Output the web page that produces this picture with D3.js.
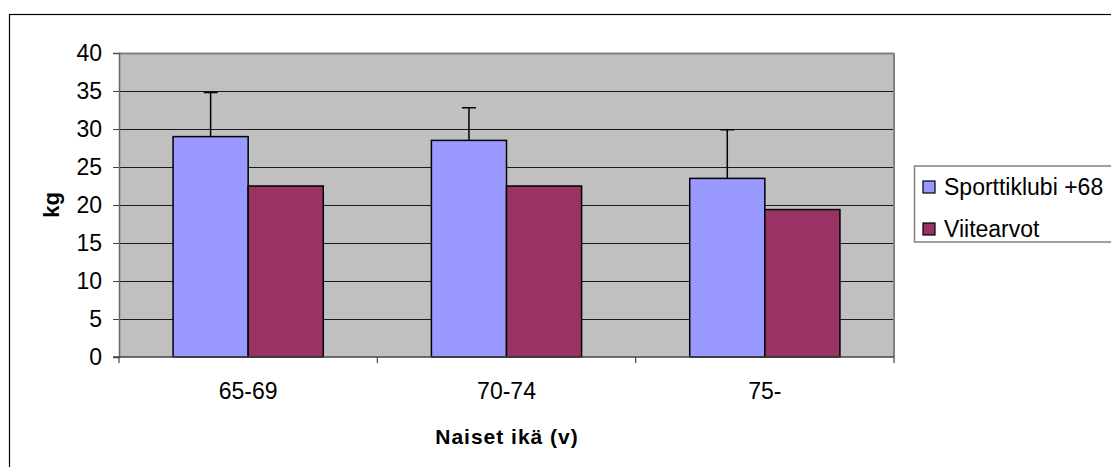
<!DOCTYPE html>
<html><head><meta charset="utf-8">
<script src="https://cdn.jsdelivr.net/npm/d3@7"></script>
<style>body{margin:0;background:#fff}svg{display:block}text{font-family:"Liberation Sans",Arial,sans-serif}</style>
</head><body><svg id="c" width="1111" height="467"></svg>
<script>
const categories = ["65-69", "70-74", "75-"];
const seriesNames = ["Sporttiklubi +68", "Viitearvot"];
const sporttiklubi = [29.0, 28.5, 23.5];
const sporttiklubiErr = [5.8, 4.3, 6.4];
const viitearvot = [22.5, 22.5, 19.4];
const yTicks = [0, 5, 10, 15, 20, 25, 30, 35, 40];
const colors = ["#9999FF", "#993366"];

const svg = d3.select("#c");
const m = {left: 119, right: 894, top: 53, bottom: 357};

svg.append("rect").attr("x", 9.5).attr("y", 14.5).attr("width", 1200).attr("height", 500)
  .attr("fill", "#fff").attr("stroke", "#000").attr("stroke-width", 1.2);

const x = d3.scaleBand().domain(categories).range([m.left, m.right]).paddingInner(0).paddingOuter(0);
const inner = d3.scaleBand().domain(seriesNames).range([0, x.bandwidth()]).paddingInner(0).paddingOuter(0.72);
const y = d3.scaleLinear().domain([0, 40]).range([m.bottom, m.top]);

svg.append("rect").attr("x", m.left).attr("y", m.top).attr("width", m.right - m.left).attr("height", m.bottom - m.top)
  .attr("fill", "#C0C0C0");

svg.append("g").selectAll("line").data(yTicks.filter(d => d > 0)).join("line")
  .attr("x1", m.left).attr("x2", m.right).attr("y1", d => Math.round(y(d)) + 0.5).attr("y2", d => Math.round(y(d)) + 0.5)
  .attr("stroke", d => d === 40 ? "#808080" : "#1a1a1a").attr("stroke-width", d => d === 40 ? 2 : 1.2);
svg.append("line").attr("x1", m.right).attr("x2", m.right).attr("y1", m.top).attr("y2", m.bottom)
  .attr("stroke", "#808080").attr("stroke-width", 2);

const rows = categories.map((c, i) => ({c, vals: [sporttiklubi[i], viitearvot[i]], err: sporttiklubiErr[i]}));
const g = svg.append("g").selectAll("g").data(rows).join("g").attr("transform", d => `translate(${x(d.c)},0)`);
const cx = inner(seriesNames[0]) + inner.bandwidth() / 2;
g.append("line").attr("x1", cx).attr("x2", cx)
  .attr("y1", d => y(d.vals[0])).attr("y2", d => y(d.vals[0] + d.err)).attr("stroke", "#000").attr("stroke-width", 1.5);
g.append("line").attr("x1", cx - 7).attr("x2", cx + 7)
  .attr("y1", d => y(d.vals[0] + d.err)).attr("y2", d => y(d.vals[0] + d.err)).attr("stroke", "#000").attr("stroke-width", 1.5);
g.selectAll("rect").data(d => d.vals.map((v, j) => ({v, j}))).join("rect")
  .attr("x", d => inner(seriesNames[d.j])).attr("width", inner.bandwidth())
  .attr("y", d => y(d.v)).attr("height", d => y(0) - y(d.v))
  .attr("fill", d => colors[d.j]).attr("stroke", "#000").attr("stroke-width", 1.5);

const yAxis = d3.axisLeft(y).tickValues(yTicks).tickSize(6).tickPadding(11);
const ya = svg.append("g").attr("transform", `translate(${m.left},0)`).call(yAxis);
ya.select(".domain").attr("stroke", "#666").attr("stroke-width", 1.5);
ya.selectAll(".tick line").attr("stroke", "#444");
ya.selectAll("text").attr("font-size", 23).attr("fill", "#000").attr("font-family", "Liberation Sans, Arial");

const xAxis = d3.axisBottom(x).tickSize(0).tickPadding(26);
const xa = svg.append("g").attr("transform", `translate(0,${m.bottom})`).call(xAxis);
xa.select(".domain").remove();
xa.selectAll("text").attr("font-size", 23).attr("fill", "#000").attr("font-family", "Liberation Sans, Arial");
svg.append("line").attr("x1", m.left - 6).attr("x2", m.right).attr("y1", m.bottom).attr("y2", m.bottom).attr("stroke", "#444").attr("stroke-width", 1.5);
svg.append("g").selectAll("line").data([...categories.map(c => x(c)), m.right]).join("line")
  .attr("x1", d => d).attr("x2", d => d).attr("y1", m.bottom).attr("y2", m.bottom + 6).attr("stroke", "#444").attr("stroke-width", 1.2);

svg.append("text").attr("transform", "translate(59,205) rotate(-90)").attr("text-anchor", "middle")
  .attr("font-size", 22).attr("font-weight", "bold").text("kg");
svg.append("text").attr("x", 507).attr("y", 444).attr("text-anchor", "middle")
  .attr("font-size", 21).attr("font-weight", "bold").attr("letter-spacing", 1).text("Naiset ikä (v)");

const lg = svg.append("g");
lg.append("rect").attr("x", 914.5).attr("y", 166).attr("width", 300).attr("height", 76)
  .attr("fill", "#fff").attr("stroke", "#808080").attr("stroke-width", 1.5);
const li = lg.selectAll("g").data(seriesNames).join("g").attr("transform", (d, i) => `translate(0,${i * 42})`);
li.append("rect").attr("x", 923).attr("y", 181).attr("width", 12).attr("height", 12)
  .attr("fill", (d, i) => colors[i]).attr("stroke", "#000").attr("stroke-width", 1.2);
li.append("text").attr("x", 944).attr("y", 195).attr("font-size", 23).text(d => d);
</script></body></html>
